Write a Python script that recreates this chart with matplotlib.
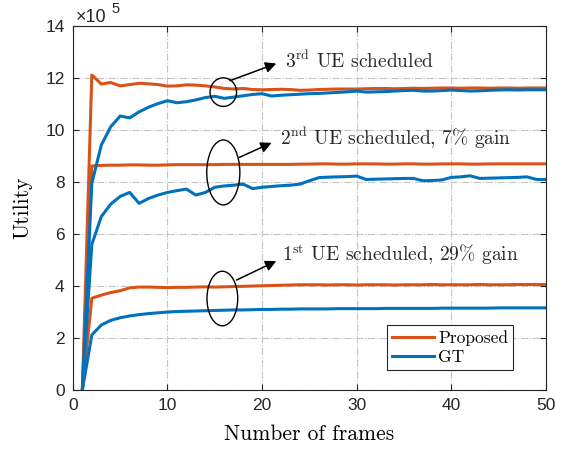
import matplotlib
matplotlib.use("Agg")
import matplotlib.pyplot as plt
from matplotlib.patches import Ellipse
import numpy as np

plt.rcParams['mathtext.fontset'] = 'cm'
plt.rcParams['axes.unicode_minus'] = False

frames = list(range(1, 51))
scale_exp = 5  # values below are in units of 1e5

prop_ue3 = [0, 12.12, 11.77, 11.83, 11.70, 11.75, 11.80, 11.78, 11.75, 11.69,
            11.70, 11.74, 11.73, 11.70, 11.66, 11.60, 11.58, 11.60, 11.56, 11.55,
            11.56, 11.57, 11.56, 11.53, 11.54, 11.56, 11.57, 11.58, 11.58, 11.58,
            11.59, 11.60, 11.60, 11.59, 11.60, 11.61, 11.60, 11.61, 11.62, 11.62,
            11.61, 11.62, 11.62, 11.61, 11.62, 11.62, 11.61, 11.62, 11.62, 11.62]
gt_ue3 = [0, 7.95, 9.42, 10.13, 10.54, 10.47, 10.70, 10.88, 11.02, 11.13,
          11.05, 11.09, 11.16, 11.25, 11.30, 11.22, 11.27, 11.32, 11.37, 11.40,
          11.31, 11.34, 11.36, 11.38, 11.40, 11.41, 11.43, 11.45, 11.47, 11.50,
          11.46, 11.47, 11.48, 11.50, 11.52, 11.53, 11.50, 11.50, 11.52, 11.54,
          11.52, 11.50, 11.51, 11.53, 11.54, 11.55, 11.54, 11.55, 11.55, 11.55]
prop_ue2 = [0, 8.62, 8.64, 8.65, 8.65, 8.66, 8.66, 8.65, 8.65, 8.66,
            8.67, 8.67, 8.67, 8.67, 8.67, 8.68, 8.68, 8.68, 8.68, 8.68,
            8.68, 8.68, 8.68, 8.69, 8.69, 8.70, 8.70, 8.69, 8.69, 8.70,
            8.70, 8.70, 8.69, 8.69, 8.70, 8.70, 8.69, 8.69, 8.70, 8.70,
            8.70, 8.69, 8.69, 8.70, 8.70, 8.70, 8.70, 8.70, 8.70, 8.70]
gt_ue2 = [0, 5.60, 6.67, 7.15, 7.45, 7.60, 7.18, 7.37, 7.50, 7.60,
          7.67, 7.73, 7.50, 7.60, 7.80, 7.85, 7.88, 7.92, 7.75, 7.80,
          7.83, 7.86, 7.88, 7.92, 8.05, 8.17, 8.19, 8.20, 8.21, 8.23,
          8.10, 8.11, 8.12, 8.13, 8.14, 8.14, 8.05, 8.06, 8.08, 8.18,
          8.20, 8.24, 8.14, 8.15, 8.16, 8.17, 8.18, 8.20, 8.10, 8.10]
prop_ue1 = [0, 3.53, 3.65, 3.75, 3.82, 3.93, 3.96, 3.96, 3.95, 3.94,
            3.95, 3.95, 3.96, 3.97, 3.96, 3.97, 3.98, 3.99, 4.00, 4.01,
            4.02, 4.03, 4.04, 4.05, 4.05, 4.05, 4.04, 4.05, 4.05, 4.04,
            4.05, 4.05, 4.05, 4.04, 4.05, 4.05, 4.05, 4.06, 4.05, 4.05,
            4.05, 4.05, 4.06, 4.05, 4.05, 4.05, 4.06, 4.06, 4.06, 4.06]
gt_ue1 = [0, 2.12, 2.50, 2.68, 2.78, 2.85, 2.90, 2.94, 2.97, 3.00,
          3.02, 3.03, 3.04, 3.05, 3.06, 3.07, 3.08, 3.08, 3.09, 3.10,
          3.10, 3.11, 3.11, 3.12, 3.12, 3.12, 3.12, 3.13, 3.13, 3.13,
          3.13, 3.13, 3.14, 3.14, 3.14, 3.14, 3.14, 3.14, 3.15, 3.15,
          3.15, 3.15, 3.15, 3.15, 3.16, 3.16, 3.16, 3.16, 3.16, 3.16]

series_labels = ['Proposed', 'GT']
x_ticks = [0, 10, 20, 30, 40, 50]
y_ticks = [0, 2, 4, 6, 8, 10, 12, 14]
annot_texts = [r'1$^{\mathrm{st}}$ UE scheduled, 29% gain',
               r'2$^{\mathrm{nd}}$ UE scheduled, 7% gain',
               r'3$^{\mathrm{rd}}$ UE scheduled']

ORANGE = '#D95319'
BLUE = '#0072BD'
SERIF = 'cmr10'
SANS = 'Liberation Sans'

fig = plt.figure(figsize=(5.74, 4.5), dpi=100)
ax = fig.add_axes([0.127, 0.1333, 0.824, 0.8087])

lw = 2.2
ax.plot(frames, prop_ue1, color=ORANGE, lw=lw, label=series_labels[0])
ax.plot(frames, gt_ue1, color=BLUE, lw=lw, label=series_labels[1])
ax.plot(frames, prop_ue2, color=ORANGE, lw=lw)
ax.plot(frames, gt_ue2, color=BLUE, lw=lw)
ax.plot(frames, prop_ue3, color=ORANGE, lw=lw)
ax.plot(frames, gt_ue3, color=BLUE, lw=lw)

ax.set_xlim(0, 50)
ax.set_ylim(0, 14)
ax.set_xticks(x_ticks)
ax.set_yticks(y_ticks)
ax.set_xticklabels([str(v) for v in x_ticks], fontfamily=SANS, fontsize=12.5)
ax.set_yticklabels([str(v) for v in y_ticks], fontfamily=SANS, fontsize=12.5)
ax.tick_params(direction='in', top=True, right=True, length=4, width=0.8,
               color='#262626', labelcolor='#262626', pad=6)
for s in ax.spines.values():
    s.set_linewidth(0.8)
    s.set_color('#262626')
ax.grid(True, linestyle='-.', color='#c4c4c4', linewidth=0.8)
ax.set_axisbelow(True)

ax.set_xlabel('Number of frames', fontfamily=SERIF, fontsize=15.5, labelpad=8)
ax.set_ylabel('Utility', fontfamily=SERIF, fontsize=15.5, labelpad=9)

# x10^5 multiplier
ax.text(0.006, 1.011, '×10', transform=ax.transAxes, fontfamily=SANS,
        fontsize=13, color='#262626', ha='left', va='baseline')
ax.text(0.081, 1.036, str(scale_exp), transform=ax.transAxes, fontfamily=SANS,
        fontsize=10.5, color='#262626', ha='left', va='baseline')

# ellipses
ells = [((15.8, 3.52), 3.25, 2.1), ((15.9, 8.37), 3.5, 2.5), ((15.9, 11.46), 2.8, 1.1)]
for (c, w, h) in ells:
    ax.add_patch(Ellipse(c, w, h, fill=False, edgecolor='k', lw=1.0, zorder=5))

arrows = [((17.3, 4.23), (21.5, 4.96), (22.1, 5.19)),
          ((17.6, 8.95), (21.0, 9.51), (21.9, 9.68)),
          ((16.6, 11.9), (21.5, 12.56), (22.4, 12.63))]
for (start, tip, tpos), txt in zip(arrows, annot_texts):
    ax.annotate('', xy=tip, xytext=start,
                arrowprops=dict(arrowstyle='-|>', color='k', lw=1.1,
                                mutation_scale=16, shrinkA=0, shrinkB=0))
    ax.text(tpos[0], tpos[1], txt, fontfamily=SERIF, fontsize=14,
            ha='left', va='center', color='#262626')

leg = ax.legend(loc='lower right', bbox_to_anchor=(0.931, 0.055),
                prop={'family': SERIF, 'size': 12.5}, frameon=True, fancybox=False,
                edgecolor='#262626', framealpha=1, handlelength=2.4,
                handletextpad=0.25, labelspacing=0.22, borderpad=0.3,
                borderaxespad=0)
leg.get_frame().set_linewidth(0.8)

fig.savefig('out.png', dpi=100)
